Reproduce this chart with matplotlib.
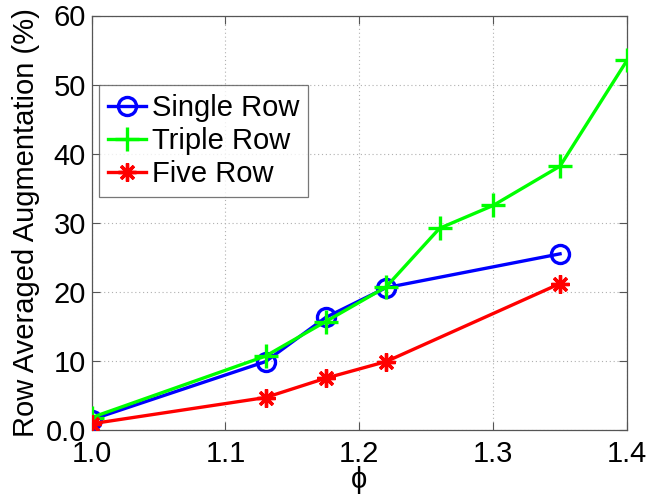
import matplotlib
matplotlib.use("Agg")
import matplotlib.pyplot as plt

plt.rcParams['font.family'] = ['Liberation Sans', 'DejaVu Sans']

# phi values and row averaged augmentation (%) for each configuration
phi_single = [1.0, 1.13, 1.175, 1.22, 1.35]
aug_single = [1.5, 9.9, 16.3, 20.6, 25.5]

phi_triple = [1.0, 1.13, 1.175, 1.22, 1.26, 1.3, 1.35, 1.4]
aug_triple = [1.8, 10.7, 15.7, 20.7, 29.2, 32.5, 38.2, 53.5]

phi_five = [1.0, 1.13, 1.175, 1.22, 1.35]
aug_five = [0.9, 4.7, 7.5, 9.9, 21.2]

x_ticks = [1.0, 1.1, 1.2, 1.3, 1.4]
x_tick_labels = ['1.0', '1.1', '1.2', '1.3', '1.4']
y_ticks = [0, 10, 20, 30, 40, 50, 60]
y_tick_labels = ['0.0', '10', '20', '30', '40', '50', '60']

fig = plt.figure(figsize=(6.47, 4.97), dpi=100)
ax = fig.add_axes([91.5 / 647, 1 - 430 / 497, (627 - 91.5) / 647, (430 - 15.5) / 497])

# asterisk marker: plus and cross strokes combined
asterisk = (8, 2, 0)

lw = 2.4
ax.plot(phi_single, aug_single, color='#0000ff', lw=lw, marker='o', ms=13,
        mfc='none', mew=2.4, label='Single Row', zorder=3)
ax.plot(phi_triple, aug_triple, color='#00ff00', lw=lw, marker='+', ms=17,
        mew=2.4, label='Triple Row', zorder=4)
ax.plot(phi_five, aug_five, color='#ff0000', lw=lw, marker=asterisk, ms=13,
        mew=2.4, label='Five Row', zorder=5)

ax.set_xlim(1.0, 1.4)
ax.set_ylim(0, 60)
ax.set_xticks(x_ticks)
ax.set_xticklabels(x_tick_labels)
ax.set_yticks(y_ticks)
ax.set_yticklabels(y_tick_labels)

ax.grid(True, linestyle=(0, (1, 2.5)), color='#b0b0b0', lw=0.8)
ax.tick_params(direction='in', length=6, width=0.8, color='#555555',
               labelsize=21, top=True, right=True)
ax.tick_params(axis='x', pad=7)
ax.tick_params(axis='y', pad=4)
for s in ax.spines.values():
    s.set_color('#555555')
    s.set_linewidth(0.9)

ax.set_xlabel('\u03d5', fontsize=21, labelpad=-1)
ax.set_ylabel('Row Averaged Augmentation (%)', fontsize=21, labelpad=4)

leg = ax.legend(loc='upper left', bbox_to_anchor=(7.5 / 535.5, 1 - 69.5 / 414.5),
                fontsize=21, frameon=True, fancybox=False, handlelength=1.3,
                handletextpad=0.2, borderpad=0.3, labelspacing=0.18,
                borderaxespad=0)
leg.get_frame().set_edgecolor('#555555')
leg.get_frame().set_linewidth(0.9)

fig.savefig('out.png', dpi=100)
